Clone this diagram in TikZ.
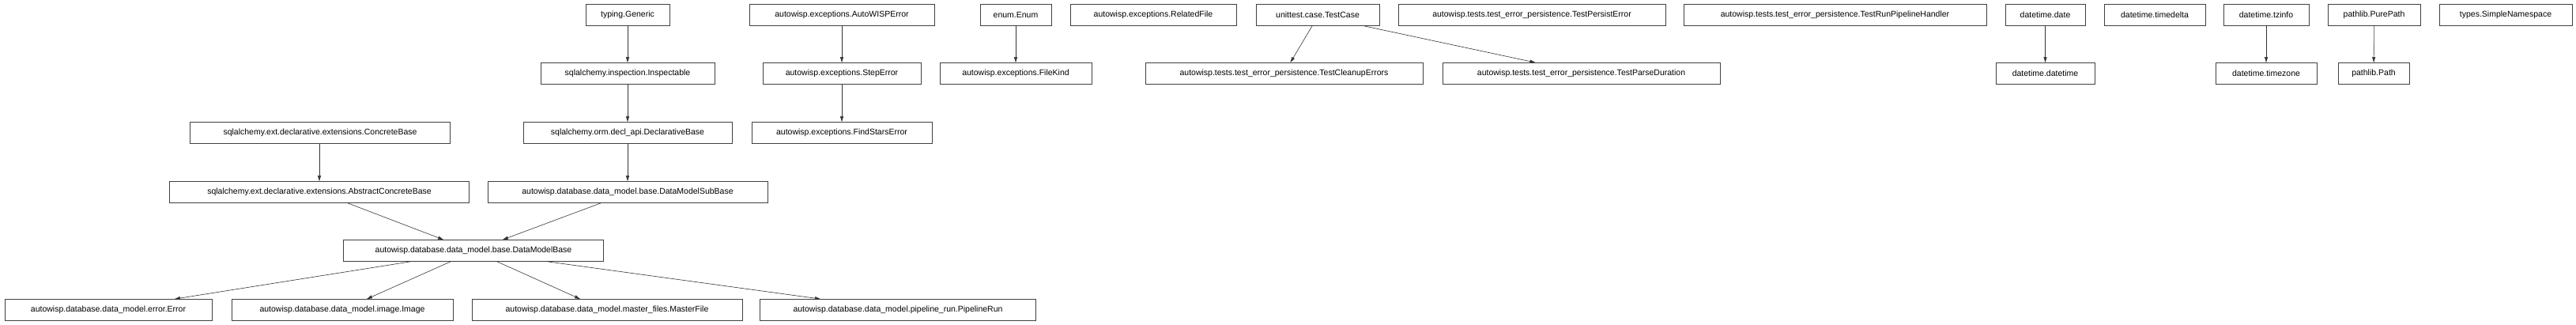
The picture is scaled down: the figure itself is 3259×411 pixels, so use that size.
\documentclass[tikz,border=0pt]{standalone}
\usepackage{fontspec}
\setmainfont{Liberation Sans}
\usetikzlibrary{arrows.meta,calc}
\begin{document}
\begin{tikzpicture}[x=1pt,y=-1pt,
  box/.style={draw=black!75, line width=0.8pt, fill=white, minimum height=27pt, inner xsep=2pt, font=\fontsize{10.5}{12}\selectfont},
  arr/.style={-{Triangle[length=7pt,width=4pt]}, draw=black!80, line width=0.6pt}]
\useasboundingbox (0,0) rectangle (3259,411);
\newcommand{\bx}[5]{\node[box, minimum width=#3pt] (#1) at (#2,#4) {\resizebox{\dimexpr #3pt - 18pt\relax}{!}{#5}};}
\node[box,minimum width=106pt] (generic) at (794,19) {typing.Generic};
\node[box,minimum width=220pt] (inspect) at (794,93) {sqlalchemy.inspection.Inspectable};
\node[box,minimum width=329pt] (concrete) at (405,168) {sqlalchemy.ext.declarative.extensions.ConcreteBase};
\node[box,minimum width=264pt] (declar) at (794,168) {sqlalchemy.orm.decl\_api.DeclarativeBase};
\node[box,minimum width=379pt] (abstract) at (404,243) {sqlalchemy.ext.declarative.extensions.AbstractConcreteBase};
\node[box,minimum width=354pt] (subbase) at (794,243) {autowisp.database.data\_model.base.DataModelSubBase};
\node[box,minimum width=329pt] (dmb) at (599,317) {autowisp.database.data\_model.base.DataModelBase};
\node[box,minimum width=262pt] (error) at (137,392) {autowisp.database.data\_model.error.Error};
\node[box,minimum width=280pt] (image) at (433,392) {autowisp.database.data\_model.image.Image};
\node[box,minimum width=342pt] (master) at (768,392) {autowisp.database.data\_model.master\_files.MasterFile};
\node[box,minimum width=349pt] (pipeline) at (1136,392) {autowisp.database.data\_model.pipeline\_run.PipelineRun};
\node[box,minimum width=234pt] (autowisp) at (1065,19) {autowisp.exceptions.AutoWISPError};
\node[box,minimum width=200pt] (steperror) at (1065,93) {autowisp.exceptions.StepError};
\node[box,minimum width=228pt] (findstars) at (1065,168) {autowisp.exceptions.FindStarsError};
\node[box,minimum width=90pt] (enum) at (1285,19) {enum.Enum};
\node[box,minimum width=192pt] (filekind) at (1285,93) {autowisp.exceptions.FileKind};
\node[box,minimum width=210pt] (related) at (1459,19) {autowisp.exceptions.RelatedFile};
\node[box,minimum width=156pt] (testcase) at (1667,19) {unittest.case.TestCase};
\node[box,minimum width=338pt] (persist) at (1938,19) {autowisp.tests.test\_error\_persistence.TestPersistError};
\node[box,minimum width=383pt] (runpipe) at (2321.5,19) {autowisp.tests.test\_error\_persistence.TestRunPipelineHandler};
\node[box,minimum width=351pt] (cleanup) at (1624.5,93) {autowisp.tests.test\_error\_persistence.TestCleanupErrors};
\node[box,minimum width=351pt] (parse) at (2000.5,93) {autowisp.tests.test\_error\_persistence.TestParseDuration};
\node[box,minimum width=101pt] (date) at (2587.5,19) {datetime.date};
\node[box,minimum width=128pt] (timedelta) at (2726,19) {datetime.timedelta};
\node[box,minimum width=108pt] (tzinfo) at (2867,19) {datetime.tzinfo};
\node[box,minimum width=117pt] (purepath) at (3003.5,19) {pathlib.PurePath};
\node[box,minimum width=168pt] (simplens) at (3170,19) {types.SimpleNamespace};
\node[box,minimum width=125pt] (datetime) at (2587.5,93) {datetime.datetime};
\node[box,minimum width=128pt] (timezone) at (2867,93) {datetime.timezone};
\node[box,minimum width=90pt] (path) at (3003,93) {pathlib.Path};
\draw[arr] (generic) -- (inspect);
\draw[arr] (inspect) -- (declar);
\draw[arr] (declar) -- (subbase);
\draw[arr] (concrete.south -| abstract.north) -- (abstract);
\draw[arr] ($(abstract.south)+(36,0)$) -- ($(dmb.north)+(-38,0)$);
\draw[arr] ($(subbase.south)+(-34,0)$) -- ($(dmb.north)+(37,0)$);
\draw[arr] ($(dmb.south)+(-80,0)$) -- ($(error.north)+(84,0)$);
\draw[arr] ($(dmb.south)+(-29,0)$) -- ($(image.north)+(31,0)$);
\draw[arr] ($(dmb.south)+(30,0)$) -- ($(master.north)+(-34,0)$);
\draw[arr] ($(dmb.south)+(94,0)$) -- ($(pipeline.north)+(-98,0)$);
\draw[arr] (autowisp) -- (steperror);
\draw[arr] (steperror) -- (findstars);
\draw[arr] (enum) -- (filekind);
\draw[arr] ($(testcase.south)+(-7,0)$) -- ($(cleanup.north)+(8,0)$);
\draw[arr] ($(testcase.south)+(59,0)$) -- ($(parse.north)+(-58,0)$);
\draw[arr] (date) -- (datetime);
\draw[arr] (tzinfo) -- (timezone);
\draw[arr] (purepath) -- (path);
\end{tikzpicture}
\end{document}
